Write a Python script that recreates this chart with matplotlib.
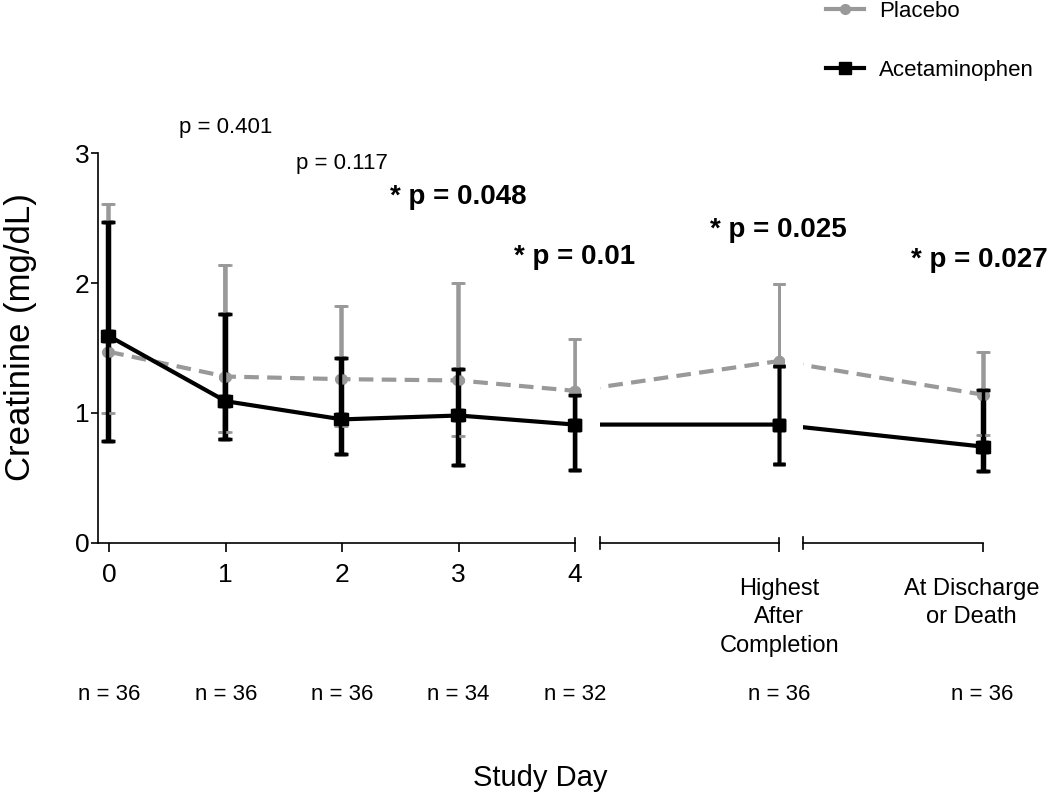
import numpy as np
import matplotlib
matplotlib.use("Agg")
import matplotlib.pyplot as plt
from matplotlib.lines import Line2D
from matplotlib.transforms import ScaledTranslation

plt.rcParams['font.family'] = ['Liberation Sans', 'DejaVu Sans']

# x positions of the time points (day 0-4, then two summary points)
x_pos = [0, 1, 2, 3, 4, 5.75, 7.5]
x_labels = ['0', '1', '2', '3', '4', 'Highest\nAfter\nCompletion', 'At Discharge\nor Death']
n_labels = ['n = 36', 'n = 36', 'n = 36', 'n = 34', 'n = 32', 'n = 36', 'n = 36']
p_labels = ['p = 0.401', 'p = 0.117', '* p = 0.048', '* p = 0.01', '* p = 0.025', '* p = 0.027']
p_x = [1, 2, 3, 4, 5.75, 7.47]
p_y = [3.2, 2.925, 2.66, 2.2, 2.41, 2.18]
p_bold = [False, False, True, True, True, True]

placebo = [1.47, 1.28, 1.26, 1.25, 1.17, 1.40, 1.14]
placebo_hi = [2.61, 2.14, 1.82, 2.00, 1.57, 1.99, 1.47]
placebo_lo = [1.00, 0.855, 0.90, 0.82, 0.90, 0.91, 0.83]

acet = [1.59, 1.09, 0.95, 0.98, 0.91, 0.91, 0.74]
acet_hi = [2.47, 1.76, 1.42, 1.34, 1.14, 1.36, 1.18]
acet_lo = [0.78, 0.80, 0.68, 0.60, 0.56, 0.61, 0.55]

W, H = 1050, 796
fig = plt.figure(figsize=(W / 100, H / 100), dpi=100)

def px_box(x0, x1, y0=153.3, y1=542.7):
    return [x0 / W, 1 - y1 / H, (x1 - x0) / W, (y1 - y0) / H]

gray = '#999999'
axes = [fig.add_axes(px_box(97.7, 575)),
        fig.add_axes(px_box(600, 779.3)),
        fig.add_axes(px_box(803.3, 983.3))]
xlims = [(-0.1, 4), (4.215, 5.75), (5.96, 7.5)]
tick_sets = [[0, 1, 2, 3, 4], [5.75], [7.5]]

pl = np.array(placebo)
ac = np.array(acet)
pl_err = [pl - np.array(placebo_lo), np.array(placebo_hi) - pl]
ac_err = [ac - np.array(acet_lo), np.array(acet_hi) - ac]

for i, ax in enumerate(axes):
    # connecting lines, clipped at each axis segment
    ax.plot(x_pos, placebo, color=gray, lw=3, ls=(0, (3.5, 2)), zorder=2)
    ax.plot(x_pos, acet, color='black', lw=3, zorder=4)
    # error bars + markers, not clipped
    eb1 = ax.errorbar(x_pos, placebo, yerr=pl_err, fmt='o', color=gray, ms=7,
                      elinewidth=1.8, capsize=4.5, capthick=1.8, zorder=3)
    eb2 = ax.errorbar(x_pos, acet, yerr=ac_err, fmt='s', color='black', ms=8,
                      elinewidth=2.5, capsize=4.5, capthick=2.5, zorder=5)
    for eb in (eb1, eb2):
        for art in eb.get_children():
            art.set_clip_on(False)

    ax.set_xlim(*xlims[i])
    ax.set_ylim(0, 3)
    ax.set_facecolor('none')
    for s in ['top', 'right']:
        ax.spines[s].set_visible(False)
    ax.spines['bottom'].set_linewidth(1.2)
    ax.spines['left'].set_linewidth(1.2)
    ax.set_xticks(tick_sets[i])
    ax.set_xticklabels([x_labels[x_pos.index(t)] for t in tick_sets[i]])
    if i == 0:
        ax.tick_params(axis='x', length=6.5, width=1.2, pad=8, labelsize=19)
        ax.set_yticks([0, 1, 2, 3])
        ax.tick_params(axis='y', length=5, width=1.2, pad=1, labelsize=19)
    else:
        ax.tick_params(axis='x', length=6.5, width=1.2, pad=19, labelsize=17)
        ax.spines['left'].set_visible(False)
        ax.set_yticks([])
        # small end marker at the start of a broken segment
        ax.plot([0, 0], [-0.015, 0.015], transform=ax.transAxes, color='black',
                lw=1.2, clip_on=False)
    if i < 2:
        ax.plot([1, 1], [0, 0.012], transform=ax.transAxes, color='black',
                lw=1.2, clip_on=False)

for lab in axes[1].get_xticklabels() + axes[2].get_xticklabels():
    lab.set_linespacing(1.37)
for lab in axes[2].get_xticklabels():
    lab.set_transform(lab.get_transform() + ScaledTranslation(-0.12, 0, fig.dpi_scale_trans))

ax1 = axes[0]
ax1.set_ylabel('Creatinine (mg/dL)', fontsize=25)
ax1.yaxis.set_label_coords(-0.127, 0.527)

for x, s in zip(x_pos, n_labels):
    ax1.text(x, -1.167, s, ha='center', va='center', fontsize=16, clip_on=False)

for x, y, s, b in zip(p_x, p_y, p_labels, p_bold):
    ax1.text(x, y, s, ha='center', va='center', fontsize=20 if b else 16,
             fontweight='bold' if b else 'normal', clip_on=False)

fig.text(540 / W, 1 - 778 / H, 'Study Day', ha='center', va='center', fontsize=21)

handles = [Line2D([], [], color=gray, lw=3, marker='o', ms=7),
           Line2D([], [], color='black', lw=3, marker='s', ms=8)]
fig.legend(handles, ['Placebo', 'Acetaminophen'], loc='upper left',
           bbox_to_anchor=(826 / W, 0.999), frameon=False, fontsize=16,
           borderpad=0, borderaxespad=0, handlelength=1.7, handletextpad=0.7,
           labelspacing=1.72)

fig.savefig('out.png', dpi=100)
